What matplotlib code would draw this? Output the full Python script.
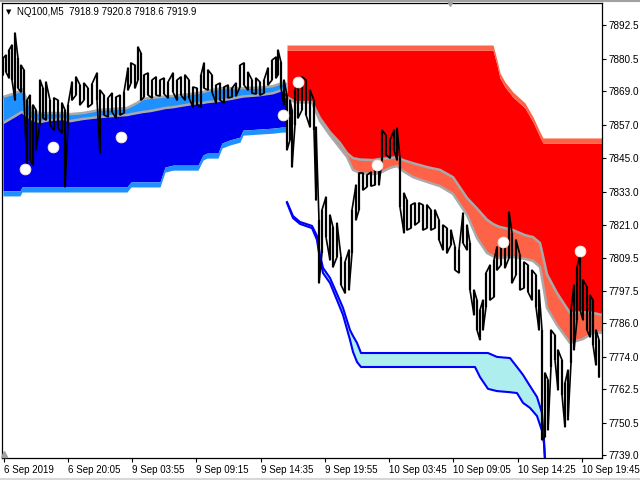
import matplotlib
matplotlib.use("Agg")
import matplotlib.pyplot as plt
import numpy as np

plt.rcParams["font.family"] = ["Liberation Sans", "DejaVu Sans"]

# ---- price bars (bar position, high, low) ----
price_x = [3, 6, 9, 12, 15, 18, 21, 24, 27, 30, 33, 36, 40, 43, 46, 50, 54, 58, 62, 65,
           68, 72, 76, 80, 84, 88, 92, 97, 100, 104, 108, 112, 116, 120, 124, 128, 131,
           135, 138, 141, 144, 148, 152, 156, 160, 164, 168, 173, 177, 181, 185, 189,
           193, 197, 201, 204, 208, 212, 216, 220, 224, 228, 232, 236, 240, 244, 248,
           252, 256, 260, 264, 268, 272, 276, 278, 281, 284, 287, 290, 292, 295, 298,
           302, 306, 310, 314, 316, 319, 322, 326, 330, 333, 337, 341, 345, 349, 352,
           356, 359, 363, 367, 371, 375, 379, 382, 386, 390, 394, 397, 400, 404, 407,
           411, 415, 419, 423, 427, 431, 435, 439, 443, 447, 451, 455, 459, 463, 467,
           470, 474, 477, 480, 483, 486, 490, 494, 497, 501, 505, 509, 512, 516, 520,
           524, 528, 532, 536, 539, 542, 545, 548, 551, 555, 558, 562, 565, 568, 571,
           574, 577, 580, 583, 587, 590, 593, 596, 599]
price_hi = [7880.7, 7881.8, 7883.6, 7885.4, 7889.7, 7880.7, 7878.2, 7876.5, 7865.7, 7867.5,
            7864.0, 7862.2, 7872.9, 7870.0, 7872.2, 7865.7, 7866.5, 7865.7, 7864.7, 7862.2,
            7864.0, 7872.2, 7874.0, 7871.1, 7871.8, 7870.0, 7871.5, 7875.4, 7869.3, 7867.5,
            7866.5, 7868.2, 7866.8, 7867.5, 7868.6, 7877.2, 7879.0, 7878.2, 7884.7, 7882.5,
            7874.7, 7875.4, 7872.9, 7874.0, 7872.9, 7873.6, 7872.2, 7875.4, 7872.9, 7874.0,
            7874.7, 7872.9, 7870.4, 7870.0, 7874.7, 7879.0, 7876.5, 7874.7, 7871.1, 7871.8,
            7870.4, 7871.1, 7870.0, 7871.8, 7878.2, 7879.0, 7875.7, 7872.9, 7873.6, 7872.2,
            7872.9, 7877.2, 7880.0, 7881.1, 7883.6, 7879.3, 7872.9, 7867.5, 7865.7, 7862.2,
            7869.3, 7872.9, 7874.0, 7872.9, 7869.3, 7865.7, 7856.1, 7822.9, 7826.5, 7831.1,
            7824.7, 7820.4, 7821.8, 7809.7, 7807.9, 7812.2, 7826.5, 7835.4, 7839.7, 7839.7,
            7839.0, 7840.0, 7840.8, 7843.2, 7855.0, 7853.2, 7851.5, 7855.0, 7855.7, 7845.0,
            7832.5, 7830.0, 7828.3, 7829.0, 7829.0, 7828.3, 7828.3, 7826.5, 7826.5, 7822.9,
            7821.1, 7820.0, 7819.3, 7813.3, 7812.2, 7825.4, 7821.1, 7814.7, 7797.9, 7794.3,
            7790.8, 7794.3, 7804.0, 7806.8, 7808.6, 7813.3, 7814.7, 7815.8, 7825.8, 7818.3,
            7815.8, 7810.4, 7807.9, 7806.8, 7805.0, 7803.3, 7797.9, 7783.6, 7768.3, 7765.8,
            7783.6, 7781.8, 7776.5, 7772.9, 7764.7, 7769.3, 7790.8, 7799.7, 7806.1, 7810.4,
            7801.5, 7799.0, 7796.1, 7794.3, 7783.6, 7780.1]
price_lo = [7874.7, 7875.7, 7873.6, 7872.9, 7865.7, 7870.0, 7868.6, 7865.7, 7840.0, 7844.3,
            7842.5, 7847.9, 7857.5, 7859.3, 7858.6, 7856.8, 7855.0, 7855.7, 7854.0, 7834.7,
            7856.8, 7865.7, 7867.5, 7864.0, 7865.7, 7863.2, 7864.3, 7865.7, 7846.8, 7860.4,
            7859.7, 7861.5, 7859.3, 7860.4, 7861.1, 7869.3, 7871.8, 7870.0, 7872.9, 7865.7,
            7866.8, 7867.5, 7866.5, 7867.5, 7867.2, 7867.9, 7866.5, 7868.6, 7865.7, 7867.5,
            7865.7, 7866.5, 7863.2, 7864.0, 7863.2, 7870.0, 7869.3, 7868.6, 7864.7, 7865.7,
            7864.7, 7866.5, 7866.8, 7867.2, 7870.4, 7871.1, 7869.3, 7868.2, 7867.9, 7867.5,
            7868.2, 7871.1, 7872.9, 7873.6, 7874.7, 7870.0, 7864.0, 7847.9, 7851.5, 7841.8,
            7856.8, 7859.3, 7862.2, 7860.4, 7856.1, 7855.0, 7830.0, 7800.4, 7811.1, 7816.8,
            7808.6, 7806.1, 7809.7, 7799.7, 7796.8, 7797.9, 7811.1, 7822.9, 7826.5, 7833.6,
            7834.7, 7835.0, 7835.4, 7835.4, 7844.3, 7846.1, 7845.0, 7847.9, 7844.3, 7827.5,
            7818.3, 7819.3, 7820.0, 7821.1, 7822.2, 7819.3, 7820.0, 7819.3, 7820.0, 7815.8,
            7812.2, 7811.1, 7814.0, 7805.0, 7804.0, 7814.7, 7812.2, 7797.9, 7789.0, 7783.6,
            7780.1, 7783.6, 7791.8, 7794.3, 7795.4, 7805.0, 7806.8, 7805.8, 7809.3, 7800.4,
            7803.3, 7797.9, 7798.6, 7797.2, 7794.3, 7791.8, 7783.6, 7744.4, 7745.4, 7747.9,
            7770.4, 7772.9, 7762.2, 7760.4, 7749.0, 7751.5, 7771.8, 7776.5, 7787.2, 7790.8,
            7787.2, 7783.6, 7781.1, 7778.3, 7771.1, 7766.8]

# ---- bullish cloud (left) ----
bull_x = [3, 15, 20, 22, 27, 33, 40, 50, 63, 70, 83, 100, 127, 131, 137, 143, 150, 160,
          165, 173, 198, 203, 207, 218, 222, 230, 240, 243, 260, 273, 282, 286]
bull_up = [7866.8, 7868.2, 7869.0, 7869.7, 7865.7, 7861.5, 7861.1, 7861.1, 7861.1, 7860.7,
           7861.1, 7862.2, 7862.9, 7863.6, 7864.7, 7866.1, 7866.5, 7866.8, 7867.0, 7867.2,
           7868.2, 7868.6, 7869.0, 7869.7, 7870.0, 7870.0, 7870.0, 7870.0, 7870.2, 7870.7,
           7871.8, 7871.5]
bull_lo = [7857.5, 7860.0, 7861.1, 7861.5, 7860.0, 7858.6, 7857.9, 7858.6, 7859.0, 7858.2,
           7859.0, 7859.7, 7860.4, 7860.7, 7861.1, 7861.5, 7861.8, 7862.5, 7862.9, 7863.2,
           7864.7, 7864.7, 7865.0, 7865.4, 7865.7, 7866.1, 7866.8, 7867.0, 7867.5, 7868.2,
           7869.3, 7868.6]
bull_stop = [7833.3, 7833.3, 7833.3, 7834.7, 7834.7, 7834.7, 7834.7, 7834.7, 7834.7, 7834.7,
             7834.7, 7834.7, 7834.7, 7836.5, 7836.5, 7836.5, 7836.5, 7836.5, 7841.8, 7842.5,
             7842.5, 7846.1, 7846.8, 7846.8, 7850.4, 7851.5, 7852.5, 7855.0, 7855.4, 7855.7,
             7856.1, 7856.1]

# ---- bearish cloud (right) ----
bear_x = [287, 295, 312, 320, 330, 340, 347, 353, 360, 373, 380, 390, 397, 403, 413, 427,
          440, 453, 467, 477, 487, 493, 497, 500, 505, 513, 525, 533, 540, 543, 547, 557,
          570, 583, 593, 602]
bear_stop = [7883.6] * 22 + [7878.2, 7873.6, 7870.4, 7866.8, 7862.9, 7857.9, 7852.5] + [7850.4] * 7
bear_up = [7866.8, 7865.0, 7865.0, 7859.3, 7854.3, 7850.4, 7846.8, 7845.0, 7844.5, 7844.3,
           7844.7, 7845.0, 7845.4, 7844.3, 7843.2, 7841.8, 7840.8, 7838.2, 7830.8, 7827.0,
           7823.0, 7821.5, 7820.8, 7820.4, 7820.0, 7819.3, 7817.5, 7816.8, 7814.7, 7810.0,
           7803.5, 7796.8, 7789.7, 7790.0, 7789.7, 7789.0]
bear_lo = [7866.8, 7865.0, 7865.0, 7858.2, 7853.2, 7848.6, 7845.4, 7840.8, 7839.7, 7839.3,
           7839.7, 7841.5, 7842.2, 7840.4, 7838.2, 7836.5, 7835.0, 7832.2, 7824.7, 7816.5,
           7811.1, 7810.0, 7809.3, 7809.3, 7809.5, 7809.7, 7809.0, 7808.3, 7806.1, 7800.0,
           7791.5, 7785.4, 7779.0, 7780.4, 7782.6, 7782.6]

# ---- support channel (blue lines) ----
sup_x = [287, 293, 300, 312, 317, 320, 323, 330, 337, 343, 350, 353, 357, 361, 475, 480,
         488, 497, 510, 517, 523, 530, 537, 542, 544, 545]
sup_up = [7829.3, 7824.3, 7822.2, 7820.8, 7817.2, 7810.4, 7805.8, 7802.2, 7796.5, 7791.5,
          7783.6, 7781.5, 7779.0, 7775.4, 7775.4, 7775.4, 7775.4, 7774.0, 7773.6, 7770.4,
          7767.6, 7763.6, 7759.7, 7754.0, 7744.4, 7737.2]
sup_lo = [7829.0, 7823.6, 7821.5, 7820.0, 7815.8, 7808.6, 7804.0, 7800.4, 7794.3, 7789.0,
          7780.1, 7775.8, 7772.2, 7770.4, 7770.4, 7766.8, 7762.6, 7761.8, 7761.4, 7761.1,
          7757.6, 7755.8, 7752.9, 7747.6, 7743.0, 7737.2]

# ---- signal dots ----
dot_x = [25, 53, 121, 283, 298, 377, 503, 580]
dot_y = [7841.1, 7849.0, 7852.5, 7860.4, 7872.2, 7842.5, 7815.0, 7811.8]

# ---- axis labels ----
time_pos = [4, 68, 132, 196, 261, 325, 389, 453, 518, 582]
time_lbl = ["6 Sep 2019", "6 Sep 20:05", "9 Sep 03:55", "9 Sep 09:15", "9 Sep 14:35",
            "9 Sep 19:55", "10 Sep 03:45", "10 Sep 09:05", "10 Sep 14:25", "10 Sep 19:45"]
price_ticks = [7892.5, 7880.5, 7869.0, 7857.0, 7845.0, 7833.0, 7821.0, 7809.5, 7797.5,
               7786.0, 7774.0, 7762.5, 7750.5, 7739.0]

fig = plt.figure(figsize=(6.4, 4.8), dpi=100)
ax = fig.add_axes([2 / 640, 22 / 480, 600 / 640, 455 / 480])
ax.set_xlim(2, 602)
ax.set_ylim(7737.9, 7900.4)

edge = 1.8  # thickness of the stop-line edges, price units

# bullish cloud
bx = np.array(bull_x)
ax.fill_between(bx, bull_stop, bull_lo, color="#0000f0", lw=0, zorder=1)
ax.fill_between(bx, bull_lo, bull_up, color="#1e90ff", lw=0, zorder=1)
ax.fill_between(bx, np.array(bull_stop) - edge, bull_stop, color="#1e90ff", lw=0, zorder=1)
ax.plot(bx, bull_up, color="#a9a9a9", lw=1.8, zorder=2)
ax.plot(bx, bull_lo, color="#a9a9a9", lw=1.8, zorder=2)

# bearish cloud
rx = np.array(bear_x)
ax.fill_between(rx, bear_up, bear_stop, color="#ff0000", lw=0, zorder=1)
ax.fill_between(rx, bear_lo, bear_up, color="#ff6347", lw=0, zorder=1)
ax.fill_between(rx, bear_stop, np.array(bear_stop) + edge, color="#ff6347", lw=0, zorder=1)
ax.plot(rx, bear_up, color="#a9a9a9", lw=1.8, zorder=2)
ax.plot(rx, bear_lo, color="#a9a9a9", lw=1.8, zorder=2)

# support channel
ax.fill_between(sup_x, sup_lo, sup_up, color="#afeeee", lw=0, zorder=1)
ax.plot(sup_x, sup_up, color="#0000ff", lw=1.5, zorder=2)
ax.plot(sup_x, sup_lo, color="#0000ff", lw=1.5, zorder=2)

# price: high-low bars joined as one jagged trace
ax.vlines(price_x, price_lo, price_hi, color="black", lw=1.6, zorder=3)
pairs = np.column_stack([price_lo, price_hi])
pairs[1::2] = pairs[1::2, ::-1]
ax.plot(np.repeat(price_x, 2), pairs.ravel(), color="black", lw=1.2, zorder=3)

ax.scatter(dot_x, dot_y, s=60, color="white", edgecolors="#ffe8e0", linewidths=0.6,
           zorder=4)

# axes styling, MT4 look
for s in ax.spines.values():
    s.set_color("black")
    s.set_linewidth(0.9)
ax.yaxis.tick_right()
ax.set_yticks(price_ticks)
ax.set_yticklabels([f"{v:.1f}" for v in price_ticks])
ax.set_xticks(time_pos)
ax.set_xticklabels(time_lbl, ha="left")
ax.tick_params(axis="y", direction="out", length=3, width=0.8, pad=2, labelsize=7.2)
ax.tick_params(axis="x", direction="out", length=3, width=0.8, pad=2, labelsize=7)

# small markers drawn by the terminal
ax.plot([450], [1.0], marker="v", ms=5, color="#a0a0a0", transform=ax.get_xaxis_transform(),
        clip_on=False, zorder=5)
ax.plot([0.004], [0.008], marker="^", ms=4, color="#a0a0a0", transform=ax.transAxes,
        clip_on=False, zorder=5)

fig.text(6 / 640, 1 - 12 / 480, "\u25bc", fontsize=5, va="center", ha="left",
         family=["DejaVu Sans"])
fig.text(17 / 640, 1 - 12 / 480, "NQ100,M5  7918.9 7920.8 7918.6 7919.9", fontsize=7,
         va="center", ha="left")

fig.add_artist(plt.Line2D([0, 1], [0.998, 0.998], color="#a0a0a0", lw=1.5))
fig.add_artist(plt.Line2D([0, 1], [0.002, 0.002], color="#d8d8d8", lw=1.5))

fig.savefig("out.png", dpi=100, facecolor="white")
